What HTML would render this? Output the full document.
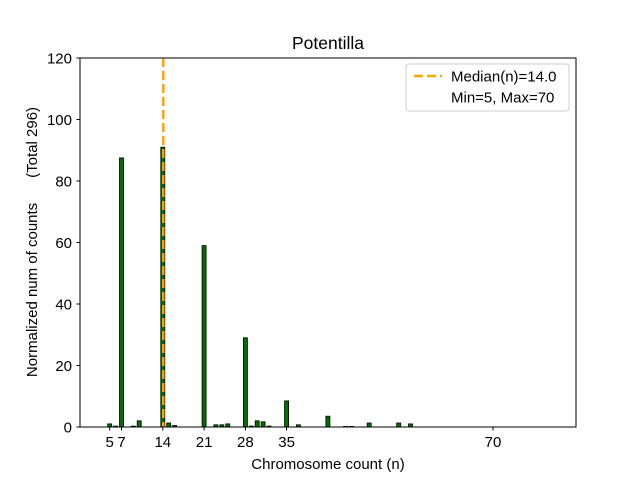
<!DOCTYPE html>
<html><head><meta charset="utf-8"><style>body{margin:0;background:#fff}svg{display:block}text{font-family:"Liberation Sans",sans-serif;fill:#000}</style></head><body>
<svg width="640" height="480" viewBox="0 0 640 480" xmlns="http://www.w3.org/2000/svg">
<rect width="640" height="480" fill="#fff"/>
<g fill="#007000" stroke="#000" stroke-width="0.8">
<rect x="107.7" y="423.9" width="4" height="3.1"/>
<rect x="113.6" y="426.1" width="4" height="0.9"/>
<rect x="119.5" y="157.9" width="4" height="269.1"/>
<rect x="131.3" y="426.1" width="4" height="0.9"/>
<rect x="137.2" y="420.8" width="4" height="6.2"/>
<rect x="160.8" y="147.2" width="4" height="279.8"/>
<rect x="166.7" y="423" width="4" height="4"/>
<rect x="172.6" y="425.5" width="4" height="1.5"/>
<rect x="202.1" y="245.6" width="4" height="181.4"/>
<rect x="213.9" y="424.8" width="4" height="2.2"/>
<rect x="219.8" y="424.8" width="4" height="2.2"/>
<rect x="225.7" y="423.9" width="4" height="3.1"/>
<rect x="243.4" y="337.8" width="4" height="89.2"/>
<rect x="249.3" y="426.1" width="4" height="0.9"/>
<rect x="255.2" y="420.8" width="4" height="6.2"/>
<rect x="261.1" y="421.8" width="4" height="5.2"/>
<rect x="267" y="426.1" width="4" height="0.9"/>
<rect x="284.6" y="400.9" width="4" height="26.1"/>
<rect x="296.4" y="424.8" width="4" height="2.2"/>
<rect x="325.9" y="416.2" width="4" height="10.8"/>
<rect x="343.6" y="426.4" width="4" height="0.6"/>
<rect x="349.5" y="426.4" width="4" height="0.6"/>
<rect x="367.2" y="423" width="4" height="4"/>
<rect x="396.7" y="423" width="4" height="4"/>
<rect x="408.5" y="423.9" width="4" height="3.1"/>
</g>
<line x1="163.3" y1="58" x2="163.3" y2="427" stroke="#ffa500" stroke-width="2.5" stroke-dasharray="9,4"/>
<rect x="80" y="58" width="496" height="369" fill="none" stroke="#000" stroke-width="1"/>
<g stroke="#000">
<line x1="80" y1="427" x2="76.5" y2="427"/><line x1="80" y1="365.5" x2="76.5" y2="365.5"/><line x1="80" y1="304" x2="76.5" y2="304"/><line x1="80" y1="242.5" x2="76.5" y2="242.5"/><line x1="80" y1="181" x2="76.5" y2="181"/><line x1="80" y1="119.5" x2="76.5" y2="119.5"/><line x1="80" y1="58" x2="76.5" y2="58"/>
<line x1="109.7" y1="427" x2="109.7" y2="430.5"/><line x1="121.5" y1="427" x2="121.5" y2="430.5"/><line x1="162.8" y1="427" x2="162.8" y2="430.5"/><line x1="204.1" y1="427" x2="204.1" y2="430.5"/><line x1="245.4" y1="427" x2="245.4" y2="430.5"/><line x1="286.6" y1="427" x2="286.6" y2="430.5"/><line x1="493" y1="427" x2="493" y2="430.5"/>
</g>
<g font-size="15" text-anchor="end">
<text x="72" y="432.5">0</text><text x="72" y="371">20</text><text x="72" y="309.5">40</text><text x="72" y="248">60</text><text x="72" y="186.5">80</text><text x="72" y="125">100</text><text x="72" y="63.5">120</text>
</g>
<g font-size="15" text-anchor="middle">
<text x="109.7" y="447">5</text><text x="121.5" y="447">7</text><text x="162.8" y="447">14</text><text x="204.1" y="447">21</text><text x="245.4" y="447">28</text><text x="286.6" y="447">35</text><text x="493" y="447">70</text>
<text x="328" y="469">Chromosome count (n)</text>
<text x="328" y="49" font-size="17.5">Potentilla</text>
<text transform="translate(37,242) rotate(-90)" xml:space="preserve" style="white-space:pre">Normalized num of counts      (Total 296)</text>
</g>
<rect x="406" y="64" width="163" height="47" rx="3" fill="#fff" stroke="#ccc"/>
<line x1="414" y1="76" x2="442" y2="76" stroke="#ffa500" stroke-width="2.5" stroke-dasharray="9,4"/>
<text x="451" y="81.5" font-size="15">Median(n)=14.0</text>
<text x="451" y="102.5" font-size="15">Min=5, Max=70</text>
</svg>
</body></html>
